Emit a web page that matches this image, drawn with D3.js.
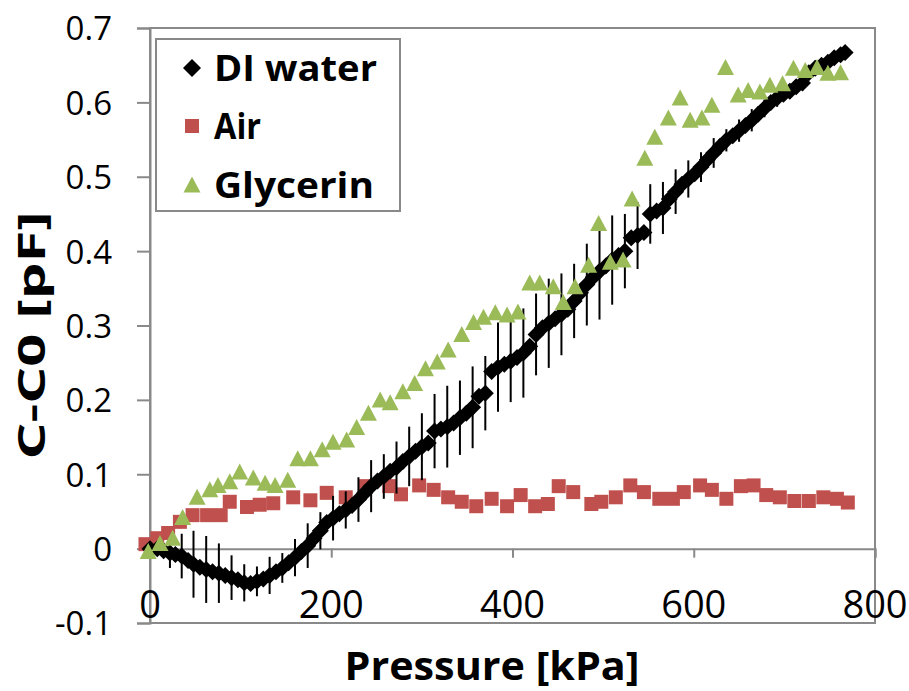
<!DOCTYPE html>
<html>
<head>
<meta charset="utf-8">
<script src="https://cdn.jsdelivr.net/npm/d3@7"></script>
<style>
  body { margin: 0; background: #fff; }
  text { font-family: "Open Sans", sans-serif; }
</style>
</head>
<body>
<div id="chart"></div>
<script>
// DI water (black diamonds, with error bars)
const diX = [0, 8, 15, 22, 28, 35, 42, 48, 55, 62, 69, 76, 83, 90, 97, 104, 111, 118, 125, 132,
  139, 146, 153, 160, 167, 174, 181, 188, 195, 202, 209, 216, 223, 230, 237, 244, 251, 258, 265, 272,
  279, 286, 293, 300, 307, 314, 321, 328, 335, 342, 349, 356, 363, 370, 377, 384, 391, 398, 405, 412,
  419, 426, 433, 440, 447, 454, 461, 468, 475, 482, 489, 496, 503, 510, 517, 524, 531, 538, 545, 552,
  559, 566, 573, 580, 587, 594, 601, 608, 615, 622, 629, 636, 643, 650, 657, 664, 671, 678, 685, 692,
  699, 706, 713, 720, 727, 734, 741, 748, 755, 762, 767];
const diY = [0.000, 0.000, -0.003, -0.006, -0.008, -0.010, -0.016, -0.021, -0.025, -0.028, -0.031, -0.033, -0.036, -0.039, -0.042, -0.046, -0.047, -0.044, -0.041, -0.036,
  -0.031, -0.026, -0.019, -0.012, -0.004, 0.004, 0.014, 0.024, 0.035, 0.041, 0.047, 0.052, 0.058, 0.066, 0.075, 0.084, 0.091, 0.097, 0.104, 0.109,
  0.117, 0.124, 0.131, 0.137, 0.142, 0.158, 0.161, 0.164, 0.169, 0.176, 0.182, 0.190, 0.205, 0.209, 0.238, 0.244, 0.248, 0.252, 0.257, 0.263,
  0.272, 0.288, 0.297, 0.303, 0.309, 0.315, 0.322, 0.333, 0.344, 0.355, 0.365, 0.373, 0.380, 0.388, 0.394, 0.400, 0.418, 0.421, 0.425, 0.450,
  0.454, 0.458, 0.470, 0.480, 0.490, 0.497, 0.504, 0.513, 0.523, 0.532, 0.541, 0.549, 0.555, 0.562, 0.569, 0.576, 0.584, 0.592, 0.600, 0.606,
  0.611, 0.615, 0.621, 0.626, 0.640, 0.646, 0.650, 0.654, 0.660, 0.664, 0.667];
const diErr = [0, 0.01, 0, 0.02, 0, 0.03, 0, 0.045, 0, 0.045, 0, 0.04, 0, 0.03, 0, 0.025, 0, 0.02, 0, 0.025,
  0, 0.02, 0, 0.025, 0, 0.03, 0, 0.025, 0, 0.03, 0, 0.025, 0, 0.03, 0, 0.035, 0, 0.03, 0, 0.035,
  0, 0.04, 0, 0.045, 0, 0.05, 0, 0.055, 0, 0.05, 0, 0.055, 0, 0.05, 0, 0.06, 0, 0.055, 0, 0.06,
  0, 0.055, 0, 0.06, 0, 0.055, 0, 0.05, 0, 0.055, 0, 0.065, 0, 0.06, 0, 0.05, 0, 0.045, 0, 0.04,
  0, 0.035, 0, 0.03, 0, 0.025, 0, 0.02, 0, 0.02, 0, 0.015, 0, 0.015, 0, 0.015, 0, 0.012, 0, 0.012,
  0, 0.01, 0, 0.01, 0, 0.01, 0, 0.008, 0, 0.008, 0];

// Air (red squares)
const airX = [-5, 8, 20, 33, 47, 63, 78, 88, 107, 121, 136, 158, 177, 195, 216, 238, 264, 277, 297, 313,
  329, 344, 360, 377, 394, 409, 425, 439, 451, 467, 487, 498, 514, 530, 545, 562, 577, 589, 607, 620,
  636, 652, 666, 680, 695, 711, 727, 743, 758, 770];
const airY = [0.006, 0.014, 0.021, 0.036, 0.045, 0.045, 0.045, 0.063, 0.056, 0.059, 0.061, 0.069, 0.065, 0.075, 0.069, 0.084, 0.084, 0.073, 0.085, 0.079,
  0.069, 0.063, 0.057, 0.067, 0.057, 0.072, 0.057, 0.060, 0.084, 0.076, 0.060, 0.063, 0.069, 0.085, 0.076, 0.067, 0.067, 0.076, 0.085, 0.079,
  0.067, 0.084, 0.085, 0.072, 0.069, 0.064, 0.064, 0.069, 0.067, 0.062];

// Glycerin (green triangles)
const glyX = [-2, 11, 25, 36, 52, 66, 75, 88, 99, 114, 127, 138, 152, 163, 177, 190, 202, 217, 228, 241,
  254, 265, 279, 292, 304, 317, 329, 344, 357, 368, 381, 394, 406, 419, 430, 445, 456, 469, 484, 495,
  508, 522, 532, 546, 557, 572, 585, 596, 609, 620, 635, 649, 660, 673, 684, 698, 710, 723, 736, 748, 762];
const glyY = [-0.004, 0.007, 0.014, 0.042, 0.069, 0.079, 0.085, 0.090, 0.103, 0.095, 0.088, 0.085, 0.092, 0.121, 0.121, 0.133, 0.143, 0.146, 0.163, 0.182,
  0.200, 0.196, 0.211, 0.222, 0.242, 0.251, 0.267, 0.288, 0.304, 0.311, 0.317, 0.314, 0.318, 0.357, 0.357, 0.352, 0.331, 0.352, 0.381, 0.437,
  0.385, 0.388, 0.470, 0.525, 0.553, 0.579, 0.606, 0.576, 0.579, 0.596, 0.647, 0.610, 0.616, 0.614, 0.623, 0.625, 0.646, 0.643, 0.647, 0.639, 0.640];

const xTicks = [0, 200, 400, 600, 800];
const yTicks = [-0.1, 0, 0.1, 0.2, 0.3, 0.4, 0.5, 0.6, 0.7];
const seriesNames = ["DI water", "Air", "Glycerin"];
const seriesColors = ["#000000", "#c0504d", "#9bbb59"];

const width = 909, height = 691;
const plot = { left: 150, right: 875, top: 28, bottom: 623 };
const gray = "#898989";

const svg = d3.select("#chart").append("svg")
  .attr("width", width)
  .attr("height", height);

const x = d3.scaleLinear().domain([0, 800]).range([plot.left, plot.right]);
const y = d3.scaleLinear().domain([-0.1, 0.7]).range([plot.bottom, plot.top]);

// plot area border
svg.append("rect")
  .attr("x", plot.left).attr("y", plot.top)
  .attr("width", plot.right - plot.left).attr("height", plot.bottom - plot.top)
  .attr("fill", "none").attr("stroke", gray).attr("stroke-width", 2);

// y axis
const yAxis = svg.append("g")
  .attr("transform", `translate(${plot.left},0)`)
  .call(d3.axisLeft(y).tickValues(yTicks).tickSize(13).tickPadding(25)
    .tickFormat(d => d === 0 ? "0" : d.toFixed(1)));
yAxis.select(".domain").attr("stroke", gray).attr("stroke-width", 2);
yAxis.selectAll(".tick line").attr("stroke", gray).attr("stroke-width", 2);
yAxis.selectAll(".tick text")
  .attr("font-family", "Open Sans")
  .attr("font-size", 33).attr("fill", "#000").attr("dy", "0.36em");

// x axis crosses at y = 0, labels placed low
const xAxis = svg.append("g")
  .attr("transform", `translate(0,${y(0)})`)
  .call(d3.axisBottom(x).tickValues(xTicks).tickSize(9).tickFormat(""));
xAxis.select(".domain").attr("stroke", gray).attr("stroke-width", 2);
xAxis.selectAll(".tick line").attr("stroke", gray).attr("stroke-width", 2);

svg.append("g").selectAll("text")
  .data(xTicks)
  .join("text")
  .attr("x", d => x(d))
  .attr("y", 618)
  .attr("text-anchor", "middle")
  .attr("font-family", "Lato")
  .attr("font-size", 38)
  .text(d => d);

// axis titles (y title is stretched along its length like the source)
const yTitle = svg.append("text")
  .attr("text-anchor", "middle")
  .attr("font-weight", "bold")
  .attr("font-size", 38)
  .text("C-C0 [pF]");
const natural = yTitle.node().getComputedTextLength();
yTitle.attr("transform",
  `translate(45,${(plot.top + plot.bottom) / 2 + 10}) rotate(-90) scale(${248 / natural},1)`);

svg.append("text")
  .attr("x", 492).attr("y", 680)
  .attr("text-anchor", "middle")
  .attr("font-weight", "bold")
  .attr("font-size", 40)
  .attr("textLength", 295)
  .attr("lengthAdjust", "spacingAndGlyphs")
  .text("Pressure [kPa]");

// marker shapes
const diamond = s => `M0,${-s}L${s},0L0,${s}L${-s},0Z`;
const square = s => `M${-s},${-s}H${s}V${s}H${-s}Z`;
const triangle = (w, h) => `M0,${-h / 2 - 1}L${w / 2},${h / 2}L${-w / 2},${h / 2}Z`;

const diData = diX.map((v, i) => ({ x: v, y: diY[i], e: diErr[i] }));
const airData = airX.map((v, i) => ({ x: v, y: airY[i] }));
const glyData = glyX.map((v, i) => ({ x: v, y: glyY[i] }));

const marks = svg.append("g");

// Air drawn underneath
marks.append("g").selectAll("path")
  .data(airData)
  .join("path")
  .attr("transform", d => `translate(${x(d.x)},${y(d.y)})`)
  .attr("d", square(7))
  .attr("fill", seriesColors[1]);

// DI water error bars + diamonds
marks.append("g").selectAll("line")
  .data(diData.filter(d => d.e > 0))
  .join("line")
  .attr("x1", d => x(d.x)).attr("x2", d => x(d.x))
  .attr("y1", d => y(d.y - d.e)).attr("y2", d => y(d.y + d.e))
  .attr("stroke", "#000").attr("stroke-width", 2);

marks.append("g").selectAll("path")
  .data(diData)
  .join("path")
  .attr("transform", d => `translate(${x(d.x)},${y(d.y)})`)
  .attr("d", diamond(8.5))
  .attr("fill", seriesColors[0]);

// Glycerin on top
marks.append("g").selectAll("path")
  .data(glyData)
  .join("path")
  .attr("transform", d => `translate(${x(d.x)},${y(d.y)})`)
  .attr("d", triangle(17, 15))
  .attr("fill", seriesColors[2]);

// legend
const legend = svg.append("g");
legend.append("rect")
  .attr("x", 156).attr("y", 39)
  .attr("width", 244).attr("height", 172)
  .attr("fill", "#fff").attr("stroke", gray).attr("stroke-width", 2);

const legendY = [68, 126, 185];
const legendLen = [163, 47, 160];
const legendShapes = [diamond(9), square(7), triangle(17, 15)];
seriesNames.forEach((name, i) => {
  legend.append("path")
    .attr("transform", `translate(192,${legendY[i]})`)
    .attr("d", legendShapes[i])
    .attr("fill", seriesColors[i]);
  legend.append("text")
    .attr("x", 214).attr("y", legendY[i])
    .attr("dy", "0.36em")
    .attr("font-weight", "bold")
    .attr("font-size", 36)
    .attr("textLength", legendLen[i])
    .attr("lengthAdjust", "spacingAndGlyphs")
    .text(name);
});
</script>
</body>
</html>
